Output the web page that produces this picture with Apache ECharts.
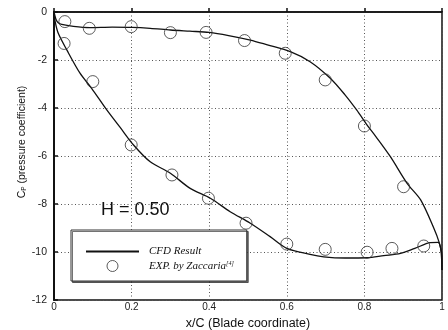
<!DOCTYPE html>
<html><head><meta charset="utf-8">
<script src="https://cdn.jsdelivr.net/npm/echarts@6/dist/echarts.min.js"></script>
<style>html,body{margin:0;padding:0;background:#fff}#c{width:448px;height:330px}</style>
</head><body><div id="c"></div>
<script>
// CFD result, upper branch (less negative) ordered by x
const cfdUpperX = [0, 0.005, 0.011, 0.02, 0.05, 0.093, 0.15, 0.2, 0.248, 0.3, 0.35, 0.4, 0.45, 0.506, 0.55, 0.609, 0.66, 0.712, 0.75, 0.78, 0.807, 0.83, 0.867, 0.91, 0.945, 0.979, 0.992, 1.0, 1.0];
const cfdUpperY = [0, -0.3, -0.45, -0.52, -0.6, -0.65, -0.63, -0.64, -0.68, -0.75, -0.8, -0.85, -0.98, -1.17, -1.37, -1.65, -2.07, -2.76, -3.45, -4.08, -4.71, -5.2, -6.03, -7.14, -7.83, -9.01, -9.57, -10.2, -10.75];
// CFD result, lower branch (more negative)
const cfdLowerX = [0, 0.003, 0.011, 0.033, 0.067, 0.097, 0.136, 0.17, 0.205, 0.248, 0.3, 0.351, 0.403, 0.454, 0.506, 0.557, 0.6, 0.66, 0.695, 0.75, 0.807, 0.85, 0.893, 0.93, 0.97, 0.99, 0.997, 1.0];
const cfdLowerY = [0, -0.4, -0.89, -1.58, -2.55, -3.18, -4.08, -4.8, -5.54, -6.24, -6.72, -7.35, -7.76, -8.32, -8.8, -9.36, -9.85, -10.1, -10.2, -10.25, -10.24, -10.15, -10.06, -9.85, -9.61, -9.6, -9.9, -10.75];
// Experimental points
const expX = [0.028, 0.091, 0.199, 0.3, 0.392, 0.491, 0.596, 0.699, 0.8, 0.901,
              0.026, 0.1, 0.199, 0.304, 0.398, 0.495, 0.6, 0.699, 0.807, 0.871, 0.953];
const expY = [-0.4, -0.68, -0.61, -0.86, -0.85, -1.19, -1.72, -2.83, -4.75, -7.28,
              -1.31, -2.9, -5.54, -6.79, -7.76, -8.8, -9.67, -9.89, -10.01, -9.85, -9.75];
const xMin = 0, xMax = 1, xStep = 0.2;
const yMin = -12, yMax = 0, yStep = 2;
const seriesNames = ['CFD Result', 'EXP. by Zaccaria'];
const annotation = 'H = 0.50';
const xName = 'x/C (Blade coordinate)';

const zip = (a, b) => a.map((v, i) => [v, b[i]]);
const chart = echarts.init(document.getElementById('c'), null, {renderer: 'canvas'});
const sans = 'Liberation Sans, Arial, sans-serif';
const serif = 'Liberation Serif, Times New Roman, serif';
chart.setOption({
  animation: false,
  backgroundColor: '#fff',
  grid: {left: 54, right: 6, top: 12, bottom: 30, show: true, borderColor: '#111', borderWidth: 1.5, outerBoundsMode: 'none'},
  xAxis: {
    type: 'value', min: xMin, max: xMax, interval: xStep,
    name: xName, nameLocation: 'middle', nameGap: 13,
    nameTextStyle: {fontFamily: sans, fontSize: 12.5, color: '#111'},
    axisLine: {show: true, lineStyle: {color: '#111', width: 1.5}},
    axisTick: {show: true, inside: true, length: 4, lineStyle: {color: '#111', width: 1.5}},
    axisLabel: {fontFamily: sans, fontSize: 10, color: '#222', margin: 2},
    splitLine: {show: true, lineStyle: {color: '#555', width: 1, type: [1, 2.5]}}
  },
  yAxis: {
    type: 'value', min: yMin, max: yMax, interval: yStep,
    axisLine: {show: true, lineStyle: {color: '#111', width: 2}},
    axisTick: {show: true, inside: true, length: 4, lineStyle: {color: '#111', width: 1.5}},
    axisLabel: {fontFamily: sans, fontSize: 10.5, color: '#222', margin: 7},
    splitLine: {show: true, lineStyle: {color: '#555', width: 1, type: [1, 2.5]}}
  },
  legend: {
    data: [
      {name: seriesNames[0], itemStyle: {opacity: 0, color: 'transparent', borderWidth: 0}},
      {name: seriesNames[1], itemStyle: {borderWidth: 1, borderColor: '#333', color: 'rgba(255,255,255,0)'}}
    ],
    orient: 'vertical', left: 71, top: 230,
    itemWidth: 53, itemHeight: 11, itemGap: 3,
    padding: [16, 13, 9, 14],
    backgroundColor: '#fff', borderColor: '#333', borderWidth: 1,
    shadowColor: 'rgba(0,0,0,0.55)', shadowOffsetX: 1.5, shadowOffsetY: 1.5, shadowBlur: 0,
    selectedMode: false,
    formatter: n => n === seriesNames[0] ? '{t|' + n + '}' : '{t|' + n + '}{s|[4]}',
    textStyle: {
      fontFamily: serif, fontStyle: 'italic', fontSize: 11, color: '#111', padding: [0, 0, 0, 5],
      rich: {
        t: {fontFamily: serif, fontStyle: 'italic', fontSize: 11, lineHeight: 12, color: '#111'},
        s: {fontFamily: serif, fontStyle: 'italic', fontSize: 6, lineHeight: 6, verticalAlign: 'top', color: '#111'}
      }
    }
  },
  graphic: [
    {type: 'text', left: 101, top: 201, z: 10,
     style: {text: annotation, fontFamily: sans, fontSize: 18, fill: '#111'}},
    {type: 'text', x: 22, y: 142, rotation: Math.PI / 2, z: 10,
     style: {text: '{c|C}{s|P}{c| (pressure coefficient)}', align: 'center', verticalAlign: 'middle',
       rich: {
         c: {fontFamily: sans, fontSize: 10.5, lineHeight: 12, fill: '#111'},
         s: {fontFamily: sans, fontSize: 6.5, lineHeight: 6, verticalAlign: 'bottom', fill: '#111'}
       }}}
  ],
  series: [
    {name: seriesNames[0], type: 'line', data: zip(cfdUpperX, cfdUpperY), symbol: 'none', smooth: 0.3,
     lineStyle: {color: '#111', width: 1.3}, itemStyle: {color: '#111'}, z: 3},
    {name: seriesNames[0], type: 'line', data: zip(cfdLowerX, cfdLowerY), symbol: 'none', smooth: 0.3,
     lineStyle: {color: '#111', width: 1.3}, itemStyle: {color: '#111'}, z: 3},
    {name: seriesNames[1], type: 'scatter', data: zip(expX, expY), symbol: 'circle', symbolSize: 12,
     itemStyle: {color: 'rgba(255,255,255,0)', borderColor: '#333', borderWidth: 1}, z: 4}
  ]
});
</script></body></html>
